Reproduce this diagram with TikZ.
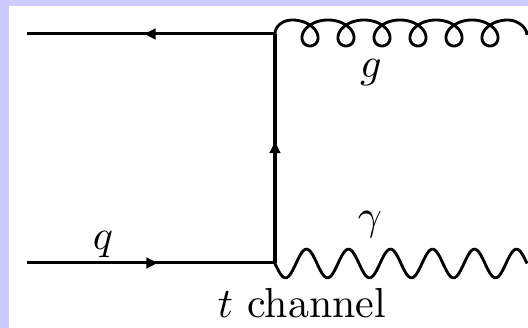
\documentclass[tikz,border=0pt]{standalone}
\usetikzlibrary{arrows.meta,decorations.markings}
\definecolor{framelav}{RGB}{204,204,255}
\begin{document}
\begin{tikzpicture}[x=0.2381pt,y=-0.2381pt,
  line/.style={line width=0.72pt},
  fermion/.style={line, postaction={decorate},
    decoration={markings, mark=at position 0.5 with {\arrow[xshift=1.6pt]{Triangle[length=2.7pt,width=2.5pt]}}}},
  boson/.style={line width=0.68pt},
  lbl/.style={inner sep=0pt, anchor=base}]
\useasboundingbox (0,0) rectangle (528,328);
\fill[framelav] (0,0) rectangle (528,328);
\fill[white] (9,6) rectangle (528,328);
% vertices and external points
\coordinate (qin) at (27,263);
\coordinate (qout) at (27,34);
\coordinate (vb) at (275,263);
\coordinate (vt) at (275,34);
\coordinate (gend) at (527,35);
\coordinate (pend) at (527,263.5);
% fermion lines
\draw[fermion] (qin) -- (vb);
\draw[fermion] (vb) -- (vt);
\draw[fermion] (vt) -- (qout);
% gluon
\draw[boson] (vt) .. controls (275,26) and (283,20) .. (292,20)
  -- plot[domain=pi:13*pi, samples=700, smooth, variable=\t]
     ({274 + 5.73*\t - 16*sin(\t r)}, {33 + 13*cos(\t r)})
  .. controls (517,20) and (527,27) .. (gend);
% photon
\draw[boson] (vb) -- plot[domain=0:6*2*pi, samples=400, smooth, variable=\t]
     ({275 + 252*\t/(12*pi)}, {263.5 + 14.3*sin(\t r)}) -- (pend);
% labels
\node[lbl] (lq) at (103,250) {$q$};
\node[lbl] (lg) at (371,78) {$g$};
\node[lbl] (lgam) at (370,230) {$\gamma$};
\node[lbl] (lt) at (302,318) {$t$ channel};
\end{tikzpicture}
\end{document}
